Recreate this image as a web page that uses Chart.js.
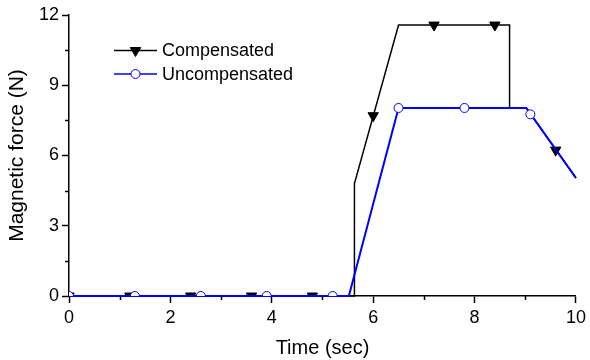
<!DOCTYPE html>
<html><head><meta charset="utf-8">
<script src="https://cdn.jsdelivr.net/npm/chart.js@4"></script>
<style>html,body{margin:0;padding:0;background:#fff}#wrap{width:590px;height:360px;position:relative}canvas{display:block}</style>
</head><body><div id="wrap"><canvas id="c" width="590" height="360"></canvas></div>
<script>
// ---- data ----
const seriesNames = ['Compensated', 'Uncompensated'];
const compLineX = [0, 5.63, 5.63, 6.5, 8.69, 8.69, 9.02, 10];
const compLineY = [0, 0, 4.8, 11.57, 11.57, 8.03, 8.03, 5.04];
const uncompLineX = [0, 5.52, 6.5, 9.02, 10];
const uncompLineY = [0, 0, 8.03, 8.03, 5.04];
const compMarkX = [0, 1.2, 2.4, 3.6, 4.8, 6.0, 7.2, 8.4, 9.6];
const compMarkY = [0, 0, 0, 0, 0, 7.7, 11.57, 11.57, 6.23];
const uncompMarkX = [0, 1.3, 2.6, 3.9, 5.2, 6.5, 7.8, 9.1];
const uncompMarkY = [0, 0, 0, 0, 0, 8.03, 8.03, 7.76];
const xTickLabels = [0, 2, 4, 6, 8, 10];
const yTickLabels = [0, 3, 6, 9, 12];
const xTitle = 'Time (sec)';
const yTitle = 'Magnetic force (N)';

const FONT = "'Liberation Sans', Arial, sans-serif";
const pts = (xs, ys) => xs.map((x, i) => ({x, y: ys[i]}));

const legendPlugin = {
  id: 'innerLegend',
  afterDraw(chart) {
    const ctx = chart.ctx;
    const items = [
      {label: seriesNames[0], color: '#000', width: 1.5, style: 'triangle', rot: 180, fill: '#000', r: 6},
      {label: seriesNames[1], color: '#0000ff', width: 1.5, style: 'circle', rot: 0, fill: '#fff', r: 4.5}
    ];
    const x0 = 114, x1 = 157, tx = 162, ys = [50.5, 74];
    items.forEach((it, i) => {
      const y = ys[i];
      ctx.save();
      ctx.strokeStyle = it.color; ctx.lineWidth = it.width;
      ctx.beginPath(); ctx.moveTo(x0, y); ctx.lineTo(x1, y); ctx.stroke();
      ctx.fillStyle = it.fill; ctx.strokeStyle = it.color; ctx.lineWidth = 1;
      Chart.helpers.drawPoint(ctx, {pointStyle: it.style, rotation: it.rot, radius: it.r, borderWidth: 1}, (x0 + x1) / 2, y);
      ctx.fillStyle = '#000';
      ctx.font = '18px ' + FONT;
      ctx.textBaseline = 'middle'; ctx.textAlign = 'left';
      ctx.fillText(it.label, tx, y + 1);
      ctx.restore();
    });
  }
};

const minorTicks = {
  id: 'minorTicks',
  afterDraw(chart) {
    const ctx = chart.ctx;
    const xs = chart.scales.x, ys = chart.scales.y;
    ctx.save();
    ctx.strokeStyle = '#000'; ctx.lineWidth = 1.5;
    xs.ticks.forEach(t => {
      if (xTickLabels.includes(t.value)) return;
      const px = Math.round(xs.getPixelForValue(t.value)) + 0.5;
      ctx.beginPath(); ctx.moveTo(px, xs.top); ctx.lineTo(px, xs.top + 4); ctx.stroke();
    });
    ys.ticks.forEach(t => {
      if (yTickLabels.includes(t.value)) return;
      const py = Math.round(ys.getPixelForValue(t.value)) + 0.5;
      ctx.beginPath(); ctx.moveTo(ys.right, py); ctx.lineTo(ys.right - 4, py); ctx.stroke();
    });
    ctx.restore();
  }
};

new Chart(document.getElementById('c'), {
  type: 'scatter',
  data: {
    datasets: [
      {label: seriesNames[1] + ' markers', data: pts(uncompMarkX, uncompMarkY), showLine: false,
       pointStyle: 'circle', pointRadius: 4.5, pointBackgroundColor: '#fff', pointBorderColor: '#0000ff', pointBorderWidth: 1, order: 1, clip: 0},
      {label: seriesNames[1], data: pts(uncompLineX, uncompLineY), showLine: true, borderColor: '#0000ff', borderWidth: 2,
       pointRadius: 0, order: 2, clip: 3},
      {label: seriesNames[0] + ' markers', data: pts(compMarkX, compMarkY), showLine: false,
       pointStyle: 'triangle', rotation: 180, pointRadius: 6, pointBackgroundColor: '#000', pointBorderColor: '#000', pointBorderWidth: 1, order: 3, clip: 0},
      {label: seriesNames[0], data: pts(compLineX, compLineY), showLine: true, borderColor: '#000', borderWidth: 1.5,
       pointRadius: 0, order: 4, clip: 3}
    ]
  },
  options: {
    responsive: false,
    animation: false,
    devicePixelRatio: 1,
    layout: {padding: {left: 5, right: 12, top: 15, bottom: 0}},
    plugins: {legend: {display: false}, tooltip: {enabled: false}},
    scales: {
      x: {
        type: 'linear', min: 0, max: 10,
        afterFit: s => { s.height = 64; },
        ticks: {stepSize: 1, autoSkip: false, maxRotation: 0, padding: 4, color: '#000',
          font: {family: FONT, size: 18},
          callback: v => xTickLabels.includes(v) ? String(v) : ''},
        grid: {drawOnChartArea: false, tickLength: 7, tickWidth: 1.5,
          tickColor: c => (c.tick && xTickLabels.includes(c.tick.value)) ? '#000' : 'rgba(0,0,0,0)'},
        border: {display: true, color: '#000', width: 1.5},
        title: {display: true, text: xTitle, color: '#000', font: {family: FONT, size: 20}, padding: {top: 0, bottom: 0}}
      },
      y: {
        type: 'linear', min: 0, max: 12,
        afterFit: s => { s.width = 64; },
        ticks: {stepSize: 1.5, autoSkip: false, padding: 3, color: '#000',
          font: {family: FONT, size: 18},
          callback: v => yTickLabels.includes(v) ? String(v) : ''},
        grid: {drawOnChartArea: false, tickLength: 7, tickWidth: 1.5,
          tickColor: c => (c.tick && yTickLabels.includes(c.tick.value)) ? '#000' : 'rgba(0,0,0,0)'},
        border: {display: true, color: '#000', width: 1.5},
        title: {display: true, text: yTitle, color: '#000', font: {family: FONT, size: 21}, padding: {top: 0, bottom: 0}}
      }
    }
  },
  plugins: [minorTicks, legendPlugin]
});
</script></body></html>
